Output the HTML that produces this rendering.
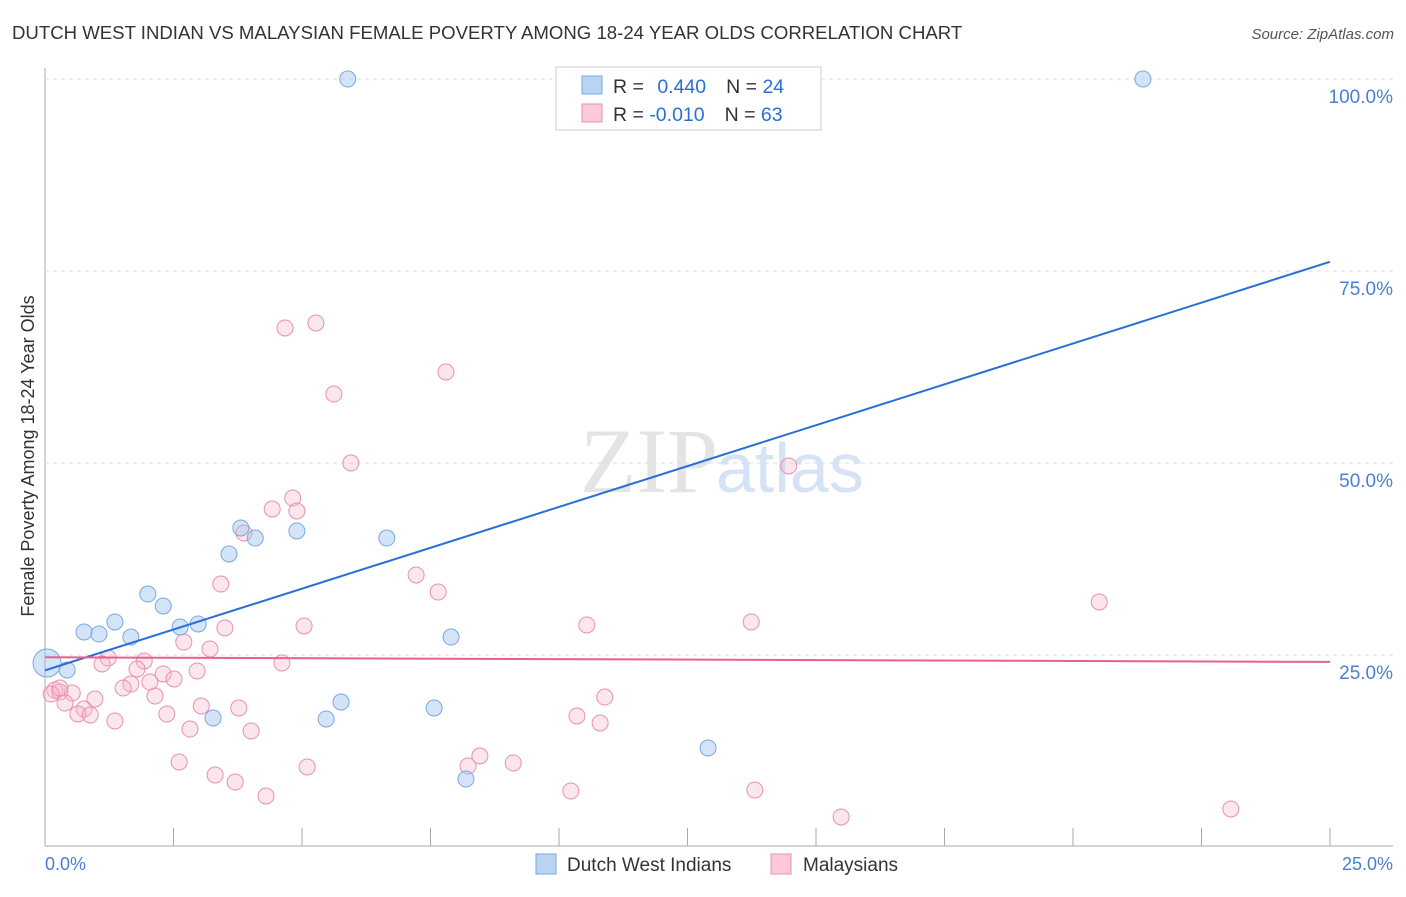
<!DOCTYPE html>
<html><head><meta charset="utf-8"><style>
body{margin:0;background:#fff;font-family:"Liberation Sans",sans-serif}
#c{position:relative;width:1406px;height:892px}
</style></head><body>
<div id="c">
<svg id="s" width="1406" height="892" xmlns="http://www.w3.org/2000/svg">
<text x="12" y="39" font-size="18.6" fill="#333">DUTCH WEST INDIAN VS MALAYSIAN FEMALE POVERTY AMONG 18-24 YEAR OLDS CORRELATION CHART</text>
<text x="1394" y="39" font-size="15" fill="#555" font-style="italic" text-anchor="end">Source: ZipAtlas.com</text>
<text x="34" y="456" font-size="18" fill="#333" text-anchor="middle" transform="rotate(-90 34 456)">Female Poverty Among 18-24 Year Olds</text>
<text x="718" y="492" font-size="92" fill="#e4e4e4" text-anchor="end" font-family="Liberation Serif,serif">ZIP</text>
<text x="716" y="492" font-size="70" fill="#d6e3f5">atlas</text>
<g id="grid"></g><g id="pts"></g><g id="lines"></g>
<g>
<rect x="556" y="67" width="265" height="63" fill="#fff" stroke="#ccc"/>
<rect x="582" y="76" width="20" height="18" fill="#b9d3f3" stroke="#7aa8e0"/>
<rect x="582" y="104" width="20" height="18" fill="#fbc9d8" stroke="#e890b0"/>
<text x="613" y="93" font-size="19.5" fill="#333">R = <tspan fill="#2a6fd6" dx="8">0.440</tspan><tspan fill="#333" dx="20">N = </tspan><tspan fill="#2a6fd6">24</tspan></text>
<text x="613" y="121" font-size="19.5" fill="#333">R = <tspan fill="#2a6fd6">-0.010</tspan><tspan fill="#333" dx="20">N = </tspan><tspan fill="#2a6fd6">63</tspan></text>
</g>
<g>
<rect x="536" y="854" width="20" height="20" fill="#b9d3f3" stroke="#7aa8e0"/>
<text x="567" y="871" font-size="19" fill="#333">Dutch West Indians</text>
<rect x="771" y="854" width="20" height="20" fill="#fbc9d8" stroke="#e890b0"/>
<text x="803" y="871" font-size="19" fill="#333">Malaysians</text>
</g>
</svg>
</div>
<script>
const yTicks=[25,50,75,100];
const xTickVals=[0,2.5,5,7.5,10,12.5,15,17.5,20,22.5,25];
const blueX=[5.89,21.36,0.04,0.43,0.76,1.05,1.36,1.67,2.00,2.30,2.63,2.98,3.27,3.58,3.81,4.09,4.90,5.47,5.76,6.65,7.57,7.90,8.19,12.90];
const blueY=[100,100,23.96,23.05,28.0,27.73,29.30,27.34,32.94,31.38,28.65,29.04,16.80,38.15,41.54,40.23,41.15,16.67,18.88,40.23,18.10,27.34,8.85,12.89];
const pinkX=[4.67,5.27,7.80,5.62,5.95,14.47,4.82,4.42,4.90,3.87,3.42,7.22,7.65,20.51,5.04,3.50,10.54,13.74,2.70,3.21,1.23,1.93,1.11,4.61,1.79,2.30,2.96,2.51,2.04,1.67,1.52,0.19,0.29,0.53,0.12,0.97,2.14,10.89,0.39,3.04,3.77,0.76,0.64,0.88,2.37,10.35,10.80,1.36,2.82,4.01,2.61,3.31,8.23,8.46,9.11,5.10,3.70,4.30,10.23,13.81,15.49,23.07,0.29];
const pinkY=[67.58,68.23,61.85,58.98,50.0,49.61,45.44,44.01,43.75,40.89,34.24,35.42,33.20,31.90,28.78,28.52,28.91,29.30,26.69,25.78,24.61,24.22,23.83,23.96,23.18,22.53,22.92,21.88,21.48,21.22,20.70,20.44,20.18,20.05,19.92,19.27,19.66,19.53,18.75,18.36,18.10,17.97,17.32,17.19,17.32,17.06,16.15,16.41,15.36,15.10,11.07,9.38,10.55,11.85,10.94,10.42,8.46,6.64,7.29,7.42,3.91,4.95,20.70];
const blueFit=[23.0,76.2];
const pinkFit=[24.7,24.1];
const X=v=>45+v*51.4, Y=v=>847-v*7.68;
const NS="http://www.w3.org/2000/svg";
function mk(tag,attrs,parent){const e=document.createElementNS(NS,tag);for(const k in attrs)e.setAttribute(k,attrs[k]);document.getElementById(parent).appendChild(e);return e;}
mk('line',{x1:45,y1:68,x2:45,y2:846,stroke:'#aaa'},'grid');
mk('line',{x1:45,y1:846,x2:1393,y2:846,stroke:'#aaa'},'grid');
yTicks.forEach(t=>{
 const l=mk('line',{x1:45,y1:Y(t),x2:1393,y2:Y(t),stroke:'#ddd','stroke-dasharray':'4,4'},'grid');
 
 
 const tx=mk('text',{x:1393,y:Y(t)+24,'font-size':19,fill:'#4a7fd0','text-anchor':'end'},'grid');
 tx.textContent=t.toFixed(1)+'%';
 
 
});
xTickVals.forEach(t=>{
 const l=mk('line',{x1:X(t),y1:828,x2:X(t),y2:846,stroke:'#aaa'},'grid');
 
 
});
[[0,'start',45],[25,'end',1393]].forEach(([v,a,x])=>{
 const tx=mk('text',{x:x,y:870,'font-size':18,fill:'#4a7fd0','text-anchor':a},'grid');
 tx.textContent=v.toFixed(1)+'%';
 
 
});
pinkX.forEach((v,i)=>{
 const c=mk('circle',{cx:X(v),cy:Y(pinkY[i]),r:8,fill:'rgba(247,182,204,0.35)',stroke:'#e890b0','stroke-width':1},'pts');
 
 
});
blueX.forEach((v,i)=>{
 const c=mk('circle',{cx:X(v),cy:Y(blueY[i]),r:i==2?14:8,fill:'rgba(160,196,240,0.45)',stroke:'#7aa8e0','stroke-width':1},'pts');
 
 
});
const bl=mk('line',{x1:X(0),y1:Y(blueFit[0]),x2:X(25),y2:Y(blueFit[1]),stroke:'#2a6fd6','stroke-width':2},'lines');


const pl=mk('line',{x1:X(0),y1:Y(pinkFit[0]),x2:X(25),y2:Y(pinkFit[1]),stroke:'#e8608f','stroke-width':2},'lines');


</script>
</body></html>
